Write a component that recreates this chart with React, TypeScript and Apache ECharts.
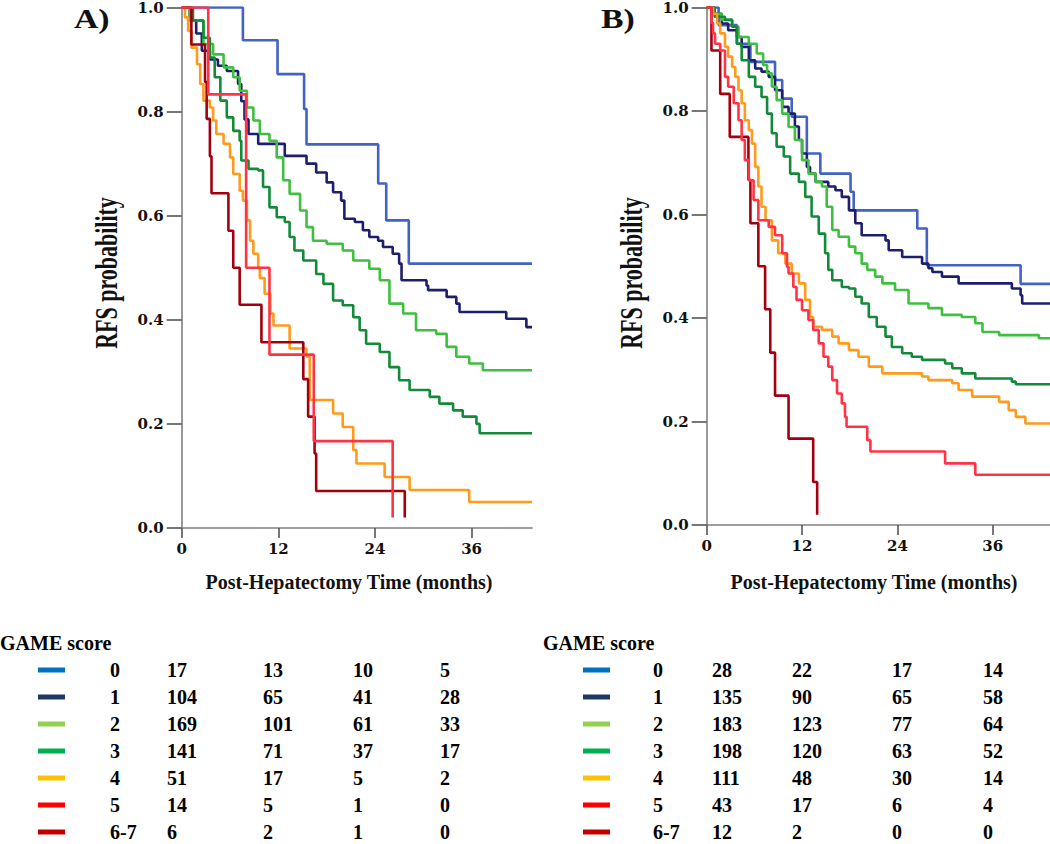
import React, { useEffect, useRef } from "react";
import * as echarts from "echarts";

const timeTicks = [0, 12, 24, 36];
const scoreLabels = ["0", "1", "2", "3", "4", "5", "6-7"];
const curveColors = ["#4262c4", "#1e1e6e", "#3fbf3f", "#138a39", "#ff9a1a", "#ff3344", "#a3000f"];
const legendColors = ["#0070C0", "#1F3864", "#92D050", "#00B050", "#FFC000", "#FF0000", "#C00000"];

const atRiskA = [
  [17, 13, 10, 5],
  [104, 65, 41, 28],
  [169, 101, 61, 33],
  [141, 71, 37, 17],
  [51, 17, 5, 2],
  [14, 5, 1, 0],
  [6, 2, 1, 0],
];
const atRiskB = [
  [28, 22, 17, 14],
  [135, 90, 65, 58],
  [183, 123, 77, 64],
  [198, 120, 63, 52],
  [111, 48, 30, 14],
  [43, 17, 6, 4],
  [12, 2, 0, 0],
];

// Panel A curves: [month, RFS probability]
const curveA0 = [[0, 1], [7.6, 0.937], [11.9, 0.872], [15.2, 0.805], [15.5, 0.737], [24.4, 0.662], [25.4, 0.591], [28.2, 0.508], [43.5, 0.508]];
const curveA1 = [[0, 1], [1.0, 0.975], [1.8, 0.95], [2.5, 0.917], [3.5, 0.9], [4.5, 0.888], [5.6, 0.878], [7, 0.853], [7.4, 0.82], [7.8, 0.785], [8.3, 0.757], [9.5, 0.738], [12.8, 0.715], [15.5, 0.7], [16.7, 0.683], [18, 0.664], [18.8, 0.645], [19.8, 0.629], [20.2, 0.594], [21.5, 0.588], [22.5, 0.572], [23.3, 0.559], [24.4, 0.552], [25, 0.54], [26.2, 0.527], [27, 0.508], [27.3, 0.476], [30.4, 0.466], [30.6, 0.457], [32.9, 0.444], [34.1, 0.431], [34.5, 0.415], [40.3, 0.402], [42.8, 0.386], [43.5, 0.386]];
const curveA2 = [[0, 1], [1, 0.975], [2.7, 0.93], [3.9, 0.91], [5.2, 0.885], [6.4, 0.866], [7.2, 0.84], [8.1, 0.808], [8.9, 0.783], [9.7, 0.757], [10.9, 0.744], [11.8, 0.712], [12.6, 0.668], [13.4, 0.642], [14.7, 0.61], [15.5, 0.578], [16.3, 0.552], [18, 0.546], [20, 0.533], [21.3, 0.514], [23.3, 0.498], [24.6, 0.476], [25.8, 0.431], [27.5, 0.412], [29.1, 0.38], [31.6, 0.373], [32.9, 0.348], [34.1, 0.329], [35.7, 0.316], [37.4, 0.303], [43.5, 0.303]];
const curveA3 = [[0, 1], [1.4, 0.975], [2.7, 0.942], [3.5, 0.904], [4.1, 0.866], [4.8, 0.821], [5.6, 0.789], [6.4, 0.763], [7.2, 0.744], [7.4, 0.706], [8.3, 0.69], [9.5, 0.687], [10.1, 0.655], [10.9, 0.616], [11.8, 0.597], [12.8, 0.588], [13.4, 0.559], [14, 0.533], [15.1, 0.514], [16.7, 0.488], [17.6, 0.469], [18.8, 0.437], [20, 0.428], [21.3, 0.405], [22.1, 0.38], [22.9, 0.354], [24.6, 0.338], [25.8, 0.309], [27, 0.284], [28.3, 0.265], [30.8, 0.252], [32, 0.239], [33.7, 0.226], [34.9, 0.214], [36.6, 0.2], [37, 0.182], [43.5, 0.182]];
const curveA4 = [[0, 1], [0.4, 0.981], [0.8, 0.955], [1.2, 0.923], [1.9, 0.891], [2.3, 0.853], [2.7, 0.821], [3.5, 0.808], [3.9, 0.783], [4.3, 0.757], [5.2, 0.738], [6, 0.712], [6.4, 0.68], [7.2, 0.648], [7.6, 0.629], [8.1, 0.591], [8.5, 0.552], [8.9, 0.527], [9.5, 0.501], [9.7, 0.48], [10.3, 0.45], [11, 0.412], [11.4, 0.389], [13.4, 0.345], [15.5, 0.329], [15.9, 0.246], [18.8, 0.22], [20, 0.194], [21.3, 0.15], [21.7, 0.124], [25.2, 0.098], [28.3, 0.073], [35.7, 0.05], [43.5, 0.05]];
const curveA5 = [[0, 1], [3.3, 0.833], [8.0, 0.5], [10.9, 0.333], [16.4, 0.167], [26.2, 0.02]];
const curveA6 = [[0, 1], [1.2, 0.929], [2.9, 0.857], [3.1, 0.786], [3.5, 0.714], [3.7, 0.643], [5.8, 0.571], [6.4, 0.5], [7.2, 0.429], [9.9, 0.357], [15.1, 0.286], [15.7, 0.214], [16.5, 0.143], [16.7, 0.071], [27.7, 0.02]];

// Panel B curves
const curveB0 = [[0, 1], [1.5, 0.966], [3.8, 0.93], [5.5, 0.895], [8.6, 0.86], [9.5, 0.824], [10.7, 0.789], [12.6, 0.718], [14.3, 0.679], [18.1, 0.644], [18.5, 0.608], [26.5, 0.573], [27.7, 0.502], [39.5, 0.466], [43.2, 0.466]];
const curveB1 = [[0, 1], [1, 0.988], [1.9, 0.969], [2.7, 0.956], [3.8, 0.943], [4.4, 0.924], [5.3, 0.898], [6.1, 0.882], [6.9, 0.876], [7.8, 0.866], [8.6, 0.84], [9.5, 0.808], [10.3, 0.795], [11.1, 0.77], [11.6, 0.744], [12, 0.718], [12.6, 0.692], [13, 0.679], [13.7, 0.663], [15.3, 0.654], [16.2, 0.647], [17, 0.634], [17.9, 0.608], [18.7, 0.583], [19.5, 0.56], [22.5, 0.55], [22.9, 0.531], [24.6, 0.518], [27.1, 0.505], [27.9, 0.496], [28.4, 0.489], [29.6, 0.48], [31.7, 0.467], [38.4, 0.457], [39.5, 0.444], [39.7, 0.428], [43.2, 0.428]];
const curveB2 = [[0, 1], [0.6, 0.988], [1.9, 0.976], [3.2, 0.963], [4, 0.943], [5.3, 0.93], [6.3, 0.911], [7.1, 0.889], [7.6, 0.873], [8.2, 0.847], [8.8, 0.821], [9.5, 0.795], [10.3, 0.769], [11.1, 0.744], [12, 0.705], [12.8, 0.679], [13.7, 0.663], [14.5, 0.654], [15.1, 0.615], [15.8, 0.57], [16.6, 0.557], [17.9, 0.538], [18.7, 0.525], [19.5, 0.505], [20.2, 0.493], [21.2, 0.48], [22.1, 0.467], [23.7, 0.454], [25.4, 0.428], [27.9, 0.419], [29.6, 0.406], [32.1, 0.402], [33.8, 0.39], [34.7, 0.373], [36.8, 0.367], [41.8, 0.361], [43.2, 0.361]];
const curveB3 = [[0, 1], [1, 0.982], [2.3, 0.976], [3.2, 0.963], [3.8, 0.93], [4.4, 0.898], [5.3, 0.866], [6.1, 0.847], [6.9, 0.827], [7.6, 0.795], [8.2, 0.757], [8.8, 0.731], [9.7, 0.712], [10.5, 0.679], [11.6, 0.663], [12.4, 0.634], [13.2, 0.596], [14.1, 0.563], [14.9, 0.525], [15.3, 0.493], [15.8, 0.473], [17, 0.46], [17.9, 0.457], [18.7, 0.441], [19.5, 0.428], [20.4, 0.402], [21.4, 0.383], [22.5, 0.364], [23.3, 0.344], [24.6, 0.332], [25.8, 0.325], [27.1, 0.319], [30, 0.312], [30.9, 0.303], [32.1, 0.293], [33.8, 0.283], [38.4, 0.277], [38.9, 0.272], [43.2, 0.272]];
const curveB4 = [[0, 1], [0.8, 0.988], [1.3, 0.969], [1.7, 0.95], [2.3, 0.924], [2.7, 0.905], [3.2, 0.885], [3.6, 0.866], [4, 0.84], [4.4, 0.815], [4.8, 0.782], [5.3, 0.763], [5.7, 0.737], [6.1, 0.692], [6.5, 0.654], [6.9, 0.615], [7.4, 0.589], [8.2, 0.55], [9, 0.525], [9.9, 0.505], [10.7, 0.486], [11.6, 0.467], [12.4, 0.435], [13, 0.402], [13.4, 0.383], [14.5, 0.377], [15.8, 0.364], [16.6, 0.351], [17.9, 0.338], [19.1, 0.325], [20.4, 0.306], [22.1, 0.293], [27.1, 0.287], [27.9, 0.28], [30.9, 0.274], [31.7, 0.261], [33.4, 0.248], [36.8, 0.238], [38, 0.222], [38.9, 0.209], [40.1, 0.196], [43.2, 0.196]];
const curveB5 = [[0, 1], [0.6, 0.97], [0.8, 0.95], [1.05, 0.93], [1.7, 0.917], [2.3, 0.866], [2.7, 0.847], [3.4, 0.815], [4, 0.782], [4.4, 0.744], [4.8, 0.705], [5.3, 0.666], [5.9, 0.628], [6.5, 0.589], [7.8, 0.576], [8.6, 0.56], [9.5, 0.525], [10.1, 0.499], [10.3, 0.486], [10.9, 0.46], [11.3, 0.435], [12, 0.415], [12.8, 0.396], [13.4, 0.377], [14.1, 0.351], [14.7, 0.325], [15.3, 0.306], [15.8, 0.28], [16.4, 0.254], [17, 0.235], [17.4, 0.209], [17.6, 0.19], [20.2, 0.164], [20.6, 0.142], [30, 0.119], [33.8, 0.097], [43.2, 0.097]];
const curveB6 = [[0, 1], [0.6, 0.917], [1.7, 0.833], [2.9, 0.75], [5.25, 0.667], [5.5, 0.583], [6.5, 0.5], [7.35, 0.417], [8.0, 0.333], [8.6, 0.25], [10.3, 0.167], [13.4, 0.083], [13.9, 0.02]];

const curvesA = [curveA0, curveA1, curveA2, curveA3, curveA4, curveA5, curveA6];
const curvesB = [curveB0, curveB1, curveB2, curveB3, curveB4, curveB5, curveB6];

const drawOrder = [0, 1, 2, 3, 4, 6, 5];

export default function App() {
  const ref = useRef<HTMLDivElement>(null);
  useEffect(() => {
    if (!ref.current) return;
    const chart = echarts.init(ref.current, undefined, { renderer: "svg" });
    const serif = "Liberation Serif";
    const tickFont = { fontFamily: "DejaVu Serif", fontWeight: "bold", fontSize: 15, color: "#111" };
    const axisLineStyle = { color: "#808080", width: 1.6 };
    const mkX = (gridIndex: number, max: number) => ({
      type: "value", gridIndex, min: 0, max, interval: 12,
      axisLine: { show: true, onZero: false, lineStyle: axisLineStyle },
      axisTick: { show: true, length: 10, customValues: timeTicks, lineStyle: { color: "#555", width: 1.6 } },
      axisLabel: { ...tickFont, margin: 13, customValues: timeTicks },
      splitLine: { show: false },
    });
    const mkY = (gridIndex: number) => ({
      type: "value", gridIndex, min: 0, max: 1, interval: 0.2,
      axisLine: { show: true, onZero: false, lineStyle: axisLineStyle },
      axisTick: { show: true, length: 15, lineStyle: { color: "#555", width: 1.6 } },
      axisLabel: { ...tickFont, margin: 18, formatter: (v: number) => v.toFixed(1) },
      splitLine: { show: false },
    });
    const series: any[] = [];
    [curvesA, curvesB].forEach((curves, p) => {
      drawOrder.forEach((i) => {
        series.push({
          type: "line", xAxisIndex: p, yAxisIndex: p, step: "end",
          data: curves[i], showSymbol: false, symbol: "none",
          lineStyle: { color: curveColors[i], width: 2.6 },
          itemStyle: { color: curveColors[i] },
          silent: true,
        });
      });
    });

    const graphics: any[] = [];
    const panelText = (text: string, x: number) => ({
      type: "text", x, y: 19, scaleX: 1.25,
      style: { text, fontFamily: serif, fontWeight: "bold", fontSize: 27, fill: "#111", align: "left", verticalAlign: "middle" },
    });
    graphics.push(panelText("A)", 74));
    graphics.push(panelText("B)", 601));
    [107, 632].forEach((x) => {
      graphics.push({
        type: "text", x, y: 273, rotation: Math.PI / 2, scaleY: 1.4,
        style: { text: "RFS probability", fontFamily: serif, fontWeight: "bold", fontSize: 22, fill: "#111", align: "center", verticalAlign: "middle" },
      });
    });
    [349, 874].forEach((x) => {
      graphics.push({
        type: "text", x, y: 582,
        style: { text: "Post-Hepatectomy Time (months)", fontFamily: serif, fontWeight: "bold", fontSize: 20, fill: "#111", align: "center", verticalAlign: "middle" },
      });
    });

    const tables = [
      { rows: atRiskA, titleX: 0, dashX: 38, scoreX: 110, cols: [167, 263, 353, 440] },
      { rows: atRiskB, titleX: 543, dashX: 583, scoreX: 653, cols: [712, 792, 892, 983] },
    ];
    const txt = (text: string, x: number, y: number) => ({
      type: "text", x, y,
      style: { text, fontFamily: serif, fontWeight: "bold", fontSize: 20, fill: "#000", align: "left", verticalAlign: "middle" },
    });
    tables.forEach((t) => {
      graphics.push(txt("GAME score", t.titleX, 643));
      t.rows.forEach((row, i) => {
        const y = 670 + 27 * i;
        graphics.push({ type: "rect", shape: { x: t.dashX, y: y - 2.5, width: 27, height: 5 }, style: { fill: legendColors[i] } });
        graphics.push(txt(scoreLabels[i], t.scoreX, y));
        row.forEach((v, j) => graphics.push(txt(String(v), t.cols[j], y)));
      });
    });

    chart.setOption({
      animation: false,
      backgroundColor: "#ffffff",
      grid: [
        { left: 181.7, top: 6.7, width: 350.3, height: 521.3 },
        { left: 706.7, top: 7.3, width: 343.3, height: 517.7 },
      ],
      xAxis: [mkX(0, 43.5), mkX(1, 43.2)],
      yAxis: [mkY(0), mkY(1)],
      series,
      graphic: { elements: graphics },
    });
    return () => chart.dispose();
  }, []);
  return <div ref={ref} style={{ position: "fixed", left: 0, top: 0, width: 1050, height: 844, background: "#fff" }} />;
}
